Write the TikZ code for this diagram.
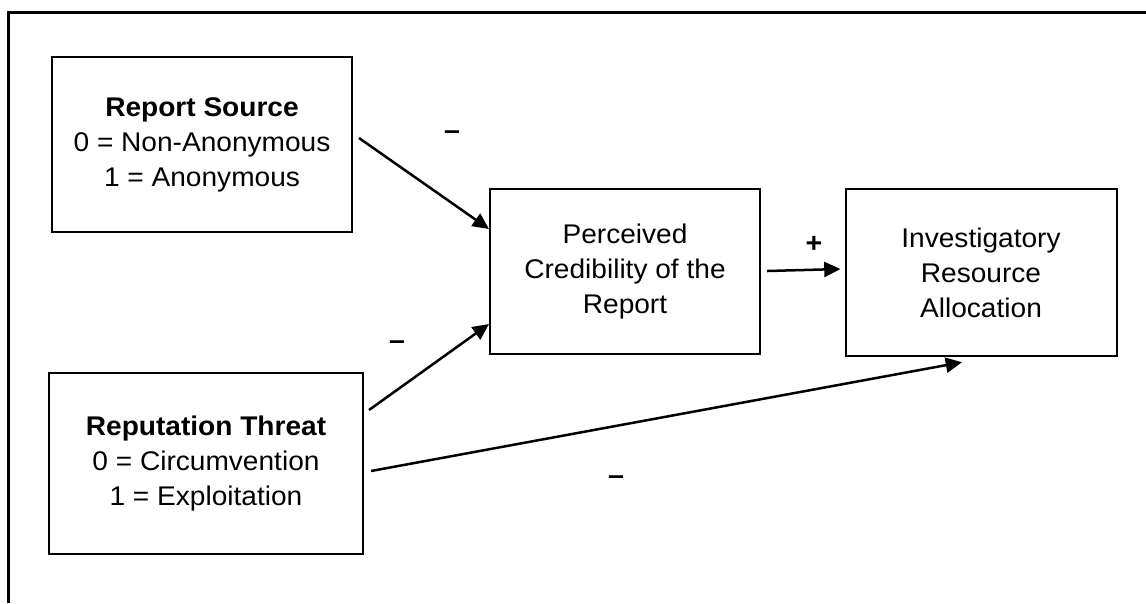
\documentclass[tikz,border=0pt]{standalone}
\usepackage{fontspec}
\setmainfont{Liberation Sans}[FakeStretch=1.04]
\usetikzlibrary{arrows.meta}

\begin{document}
\begin{tikzpicture}[x=0.4pt,y=0.4pt]
\tikzset{every node/.style={font=\fontsize{10.8}{14}\selectfont},
  varbox/.style={draw=black,line width=0.8pt,align=center,inner sep=0pt},
  path/.style={line width=1pt,-{Triangle[length=6.5pt,width=6pt]}},
  sign/.style={font=\fontsize{11}{14}\selectfont\bfseries}}
\useasboundingbox (0,0) rectangle (1146,-603);
\draw [line width=1.2pt] (8,-603) -- (8,-12) -- (1146,-12);
% variables
\node [varbox,minimum width=120pt,minimum height=70pt] (rs) at (202,-144.5)
  {\textbf{Report Source}\\0 = Non-Anonymous\\1 = Anonymous};
\node [varbox,minimum width=125.6pt,minimum height=72.4pt] (rt) at (206,-463.5)
  {\textbf{Reputation Threat}\\0 = Circumvention\\1 = Exploitation};
\node [varbox,minimum width=108pt,minimum height=66pt] (pc) at (625,-271.7)
  {Perceived\\Credibility of the\\Report};
\node [varbox,minimum width=108.4pt,minimum height=66.8pt] (ira) at (981,-272.7)
  {Investigatory\\Resource\\Allocation};
% paths
\draw [path] ([shift={(6,6.5)}]rs.east) -- ([shift={(0,42.7)}]pc.west);
\draw [path] ([shift={(5,53.5)}]rt.east) -- ([shift={(0,-52.3)}]pc.west);
\draw [path] ([shift={(7,-7.5)}]rt.east) -- ([shift={(-19,-5)}]ira.south);
\draw [path] ([shift={(6,0.7)}]pc.east) -- ([shift={(-4,3.7)}]ira.west);
% signs
\node [sign] (s1) at (452,-135) {--};
\node [sign] (s2) at (397,-345) {--};
\node [sign] (s3) at (814,-244) {+};
\node [sign] (s4) at (616,-480) {--};
\end{tikzpicture}
\end{document}
